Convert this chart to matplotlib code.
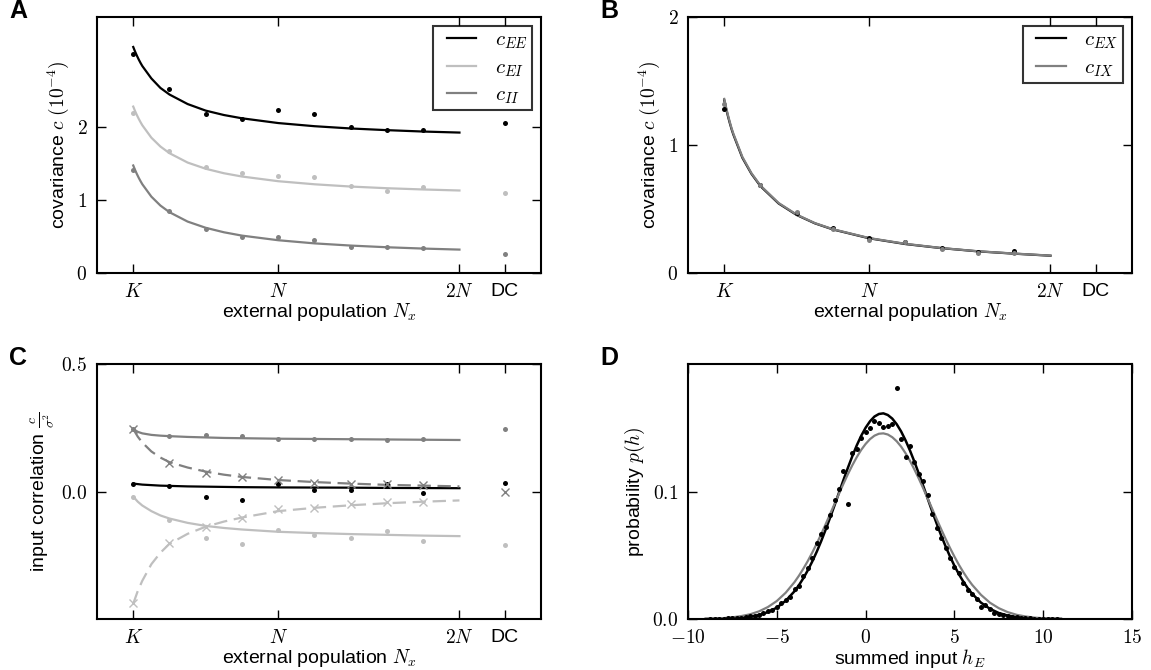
import matplotlib
matplotlib.use("Agg")
import matplotlib.pyplot as plt
from matplotlib.lines import Line2D
from matplotlib.legend_handler import HandlerLine2D

plt.rcParams['font.family'] = ['Liberation Sans', 'DejaVu Sans']
plt.rcParams['mathtext.fontset'] = 'cm'

# ---------------- data ----------------
# x positions in units of N (K = 0.2 N), DC drawn at a separate slot
tick_pos = [0.2, 1.0, 2.0, 2.25]
tick_lab = ['$K$', '$N$', '$2N$', 'DC']
x_pts = [0.2, 0.4, 0.6, 0.8, 1.0, 1.2, 1.4, 1.6, 1.8]
x_dc = 2.25
x_curve = [0.2, 0.21, 0.22, 0.23, 0.24, 0.25, 0.3, 0.35, 0.4, 0.5, 0.6, 0.7, 0.8, 1.0, 1.2, 1.4, 1.6, 1.8, 2.0]

# Panel A (covariance, 1e-4)
A_EE_curve = [3.09, 3.028, 2.972, 2.920, 2.873, 2.83, 2.66, 2.53, 2.44, 2.31, 2.22, 2.16, 2.115, 2.05, 2.007, 1.976, 1.953, 1.934, 1.92]
A_EI_curve = [2.275, 2.214, 2.159, 2.109, 2.063, 2.02, 1.85, 1.729, 1.638, 1.51, 1.425, 1.364, 1.319, 1.255, 1.213, 1.182, 1.159, 1.142, 1.128]
A_II_curve = [1.47, 1.409, 1.354, 1.303, 1.257, 1.214, 1.044, 0.922, 0.831, 0.703, 0.618, 0.557, 0.511, 0.448, 0.405, 0.375, 0.352, 0.334, 0.320]
A_EE_pts = [3.00, 2.52, 2.18, 2.11, 2.23, 2.18, 2.00, 1.95, 1.95]
A_EI_pts = [2.19, 1.67, 1.45, 1.37, 1.33, 1.31, 1.19, 1.12, 1.17]
A_II_pts = [1.41, 0.85, 0.60, 0.49, 0.49, 0.45, 0.36, 0.35, 0.34]
A_EE_dc, A_EI_dc, A_II_dc = 2.05, 1.10, 0.26

# Panel B
B_EX_curve = [1.35, 1.286, 1.227, 1.174, 1.125, 1.082, 0.90, 0.775, 0.678, 0.543, 0.453, 0.388, 0.34, 0.271, 0.226, 0.194, 0.169, 0.151, 0.135]
B_IX_curve = [1.36, 1.295, 1.236, 1.183, 1.133, 1.09, 0.907, 0.78, 0.683, 0.547, 0.456, 0.39, 0.342, 0.273, 0.228, 0.195, 0.170, 0.152, 0.136]
B_EX_pts = [1.28, 0.69, 0.47, 0.35, 0.276, 0.24, 0.195, 0.164, 0.17]
B_IX_pts = [1.32, 0.69, 0.48, 0.34, 0.26, 0.24, 0.19, 0.16, 0.16]

# Panel C (input correlation)
C_xc = [0.2, 0.225, 0.25, 0.3, 0.35, 0.4, 0.5, 0.6, 0.7, 0.8, 1.0, 1.2, 1.4, 1.6, 1.8, 2.0]
C_II_curve = [0.245, 0.234, 0.228, 0.222, 0.219, 0.217, 0.214, 0.212, 0.210, 0.209, 0.207, 0.206, 0.205, 0.204, 0.203, 0.202]
C_EE_curve = [0.031, 0.029, 0.027, 0.025, 0.023, 0.022, 0.020, 0.019, 0.018, 0.017, 0.016, 0.0155, 0.015, 0.014, 0.0135, 0.013]
C_EI_curve = [-0.020, -0.040, -0.055, -0.077, -0.094, -0.106, -0.123, -0.135, -0.143, -0.149, -0.158, -0.163, -0.167, -0.170, -0.173, -0.175]
C_IId_curve = [0.245, 0.215, 0.192, 0.157, 0.133, 0.115, 0.094, 0.078, 0.066, 0.057, 0.045, 0.037, 0.031, 0.026, 0.023, 0.020]
C_EId_curve = [-0.440, -0.390, -0.350, -0.285, -0.240, -0.205, -0.166, -0.138, -0.118, -0.102, -0.077, -0.064, -0.054, -0.046, -0.040, -0.035]
C_II_pts = [0.245, 0.218, 0.222, 0.218, 0.205, 0.206, 0.206, 0.202, 0.206]
C_EE_pts = [0.031, 0.023, -0.022, -0.033, 0.028, 0.004, 0.004, 0.028, -0.004]
C_EI_pts = [-0.020, -0.110, -0.181, -0.205, -0.151, -0.172, -0.181, -0.155, -0.194]
C_IIx_pts = [0.245, 0.110, 0.074, 0.057, 0.044, 0.034, 0.028, 0.028, 0.024]
C_EIx_pts = [-0.437, -0.200, -0.138, -0.102, -0.069, -0.065, -0.049, -0.042, -0.040]
C_II_dc, C_EE_dc, C_EI_dc, C_x_dc = 0.245, 0.034, -0.210, 0.0

# Panel D (distribution of summed input)
D_xc = [-9, -8.5, -8, -7.5, -7, -6.5, -6, -5.5, -5, -4.5, -4, -3.75, -3.5, -3.25, -3, -2.75, -2.5, -2.25,
        -2, -1.75, -1.5, -1.25, -1, -0.75, -0.5, -0.25, 0, 0.25, 0.5, 0.75, 1, 1.25, 1.5, 1.75, 2, 2.25,
        2.5, 2.75, 3, 3.25, 3.5, 3.75, 4, 4.25, 4.5, 4.75, 5, 5.25, 5.5, 5.75, 6, 6.5, 7, 7.5, 8, 8.5,
        9, 9.5, 10, 10.5, 11]
D_black_curve = [0.00005, 0.0001, 0.0002, 0.0005, 0.0009, 0.0017, 0.0031, 0.0054, 0.0089, 0.0143, 0.0218,
                 0.0266, 0.0321, 0.0383, 0.0452, 0.0528, 0.0611, 0.0701, 0.0795, 0.0891, 0.0990, 0.1089,
                 0.1185, 0.1276, 0.1361, 0.1436, 0.1500, 0.1551, 0.1588, 0.1608, 0.1613, 0.1600, 0.1572,
                 0.1528, 0.1471, 0.1401, 0.1321, 0.1233, 0.1139, 0.1042, 0.0943, 0.0844, 0.0749, 0.0657,
                 0.0571, 0.0491, 0.0418, 0.0352, 0.0294, 0.0242, 0.0198, 0.0128, 0.0080, 0.0047, 0.0027,
                 0.0015, 0.0008, 0.0004, 0.0002, 0.0001, 0.00004]
D_gray_curve = [0.0002, 0.0004, 0.0007, 0.0013, 0.0023, 0.0037, 0.0060, 0.0094, 0.0141, 0.0206, 0.0290,
                0.0340, 0.0396, 0.0456, 0.0522, 0.0592, 0.0666, 0.0743, 0.0823, 0.0902, 0.0982, 0.1060,
                0.1135, 0.1205, 0.1269, 0.1326, 0.1373, 0.1411, 0.1438, 0.1453, 0.1456, 0.1447, 0.1426,
                0.1394, 0.1352, 0.1300, 0.1240, 0.1172, 0.1100, 0.1023, 0.0944, 0.0864, 0.0784, 0.0706,
                0.0630, 0.0558, 0.0490, 0.0426, 0.0368, 0.0315, 0.0268, 0.0189, 0.0128, 0.0085, 0.0054,
                0.0033, 0.0020, 0.0011, 0.0006, 0.0003, 0.0002]
D_xp = [-8.75, -8.5, -8.25, -8.0, -7.75, -7.5, -7.25, -7.0, -6.75, -6.5, -6.25, -6.0, -5.75, -5.5, -5.25,
        -5.0, -4.75, -4.5, -4.25, -4.0, -3.75, -3.5, -3.25, -3.0, -2.75, -2.5, -2.25, -2.0, -1.75, -1.5,
        -1.25, -1.0, -0.75, -0.5, -0.25, 0.0, 0.25, 0.5, 0.75, 1.0, 1.25, 1.5, 1.75, 2.0, 2.25, 2.5,
        2.75, 3.0, 3.25, 3.5, 3.75, 4.0, 4.25, 4.5, 4.75, 5.0, 5.25, 5.5, 5.75, 6.0, 6.25, 6.5, 6.75,
        7.0, 7.25, 7.5, 7.75, 8.0, 8.25, 8.5, 8.75, 9.0, 9.25, 9.5, 9.75, 10.0, 10.25, 10.5, 10.75]
D_yp = [0.0002, 0.0001, 0.0003, 0.0001, 0.0004, 0.0006, 0.0005, 0.0011, 0.0012, 0.0020, 0.0026, 0.0035,
        0.0046, 0.0060, 0.0068, 0.0094, 0.0128, 0.0150, 0.0172, 0.0232, 0.0255, 0.0340, 0.0400, 0.0480,
        0.0595, 0.0670, 0.0720, 0.0815, 0.0935, 0.1020, 0.1160, 0.0900, 0.1300, 0.1335, 0.1420, 0.1470,
        0.1500, 0.1555, 0.1535, 0.1505, 0.1515, 0.1530, 0.1810, 0.1410, 0.1270, 0.1360, 0.1230, 0.1140,
        0.1080, 0.0970, 0.0820, 0.0710, 0.0639, 0.0560, 0.0480, 0.0410, 0.0360, 0.0285, 0.0225, 0.0194,
        0.0155, 0.0094, 0.0110, 0.0076, 0.0050, 0.0040, 0.0030, 0.0024, 0.0016, 0.0012, 0.0009, 0.0007,
        0.0004, 0.0003, 0.0003, 0.0001, 0.0002, 0.0001, 0.0001]

# ---------------- styling ----------------
BLACK, DARK, LIGHT = 'black', '0.5', '0.75'
LW = 1.6
MS = 3.6
TICK_FS = 14
LAB_FS = 14
LEG_FS = 15
DASH = (6, 3)

W, H = 1151, 670
fig = plt.figure(figsize=(W / 100, H / 100), dpi=100)


def make_ax(left, top, right, bottom):
    ax = fig.add_axes([left / W, 1 - bottom / H, (right - left) / W, (bottom - top) / H])
    for s in ax.spines.values():
        s.set_linewidth(1.5)
    ax.tick_params(direction='in', top=True, right=True, length=6.5, width=1.0,
                   pad=7, labelsize=TICK_FS)
    return ax


def letter(ax_left, ax_top, txt):
    fig.text((ax_left - 88) / W, 1 - (ax_top + 1) / H, txt, fontsize=18, fontweight='bold',
             ha='left', va='baseline')


def legend(ax):
    leg = ax.legend(loc='upper right', fontsize=LEG_FS, frameon=True, fancybox=False,
                    handlelength=1.85, handletextpad=0.9, labelspacing=0.33, borderpad=0.2,
                    borderaxespad=0.45, edgecolor='black',
                    handler_map={Line2D: HandlerLine2D(xpad=0.45)})
    leg.get_frame().set_linewidth(1.5)
    return leg


axA = make_ax(97, 17, 541, 273)
axB = make_ax(688, 17, 1132, 273)
axC = make_ax(97, 364, 541, 619)
axD = make_ax(688, 364, 1132, 619)


def pop_axis(ax):
    ax.set_xlim(0, 2.45)
    ax.set_xticks(tick_pos)
    ax.set_xticklabels(tick_lab)
    ax.set_xlabel('external population $N_x$', fontsize=LAB_FS, labelpad=0)


# Panel A
pop_axis(axA)
axA.plot(x_curve, A_EE_curve, color=BLACK, lw=LW, label='$c_{EE}$')
axA.plot(x_curve, A_EI_curve, color=LIGHT, lw=LW, label='$c_{EI}$')
axA.plot(x_curve, A_II_curve, color=DARK, lw=LW, label='$c_{II}$')
for pts, dc, col in [(A_EE_pts, A_EE_dc, BLACK), (A_EI_pts, A_EI_dc, LIGHT), (A_II_pts, A_II_dc, DARK)]:
    axA.plot(x_pts + [x_dc], pts + [dc], 'o', color=col, ms=MS, mec='none')
axA.set_ylim(0, 3.5)
axA.set_yticks([0, 1, 2])
axA.set_yticklabels(['$0$', '$1$', '$2$'])
axA.set_ylabel('covariance $c\\ (10^{-4})$', fontsize=LAB_FS, labelpad=4)
legend(axA)
letter(97, 17, 'A')

# Panel B
pop_axis(axB)
axB.plot(x_curve, B_EX_curve, color=BLACK, lw=LW, label='$c_{EX}$')
axB.plot(x_curve, B_IX_curve, color=DARK, lw=LW, label='$c_{IX}$')
axB.plot(x_pts, B_EX_pts, 'o', color=BLACK, ms=MS, mec='none')
axB.plot(x_pts, B_IX_pts, 'o', color=DARK, ms=MS, mec='none')
axB.set_ylim(0, 2)
axB.set_yticks([0, 1, 2])
axB.set_yticklabels(['$0$', '$1$', '$2$'])
axB.set_ylabel('covariance $c\\ (10^{-4})$', fontsize=LAB_FS, labelpad=4)
legend(axB)
letter(688, 17, 'B')

# Panel C
pop_axis(axC)
axC.plot(C_xc, C_II_curve, color=DARK, lw=LW)
axC.plot(C_xc, C_EE_curve, color=BLACK, lw=LW)
axC.plot(C_xc, C_EI_curve, color=LIGHT, lw=LW)
axC.plot(C_xc, C_IId_curve, color=DARK, lw=LW, dashes=DASH)
axC.plot(C_xc, C_EId_curve, color=LIGHT, lw=LW, dashes=DASH)
axC.plot(x_pts + [x_dc], C_II_pts + [C_II_dc], 'o', color=DARK, ms=MS, mec='none')
axC.plot(x_pts + [x_dc], C_EE_pts + [C_EE_dc], 'o', color=BLACK, ms=MS, mec='none')
axC.plot(x_pts + [x_dc], C_EI_pts + [C_EI_dc], 'o', color=LIGHT, ms=MS, mec='none')
axC.plot(x_pts + [x_dc], C_IIx_pts + [C_x_dc], 'x', color=DARK, ms=6, mew=1.0)
axC.plot(x_pts, C_EIx_pts, 'x', color=LIGHT, ms=6, mew=1.0)
axC.set_ylim(-0.5, 0.5)
axC.set_yticks([0, 0.5])
axC.set_yticklabels(['$0.0$', '$0.5$'])
axC.set_ylabel('input correlation $\\frac{c}{\\sigma^2}$', fontsize=LAB_FS, labelpad=4)
letter(97, 364, 'C')

# Panel D
axD.plot(D_xp, D_yp, 'o', color=BLACK, ms=MS, mec='none', zorder=3)
axD.plot(D_xc, D_black_curve, color=BLACK, lw=LW + 0.2, zorder=2)
axD.plot(D_xc, D_gray_curve, color=DARK, lw=LW, zorder=2)
axD.set_xlim(-10, 15)
axD.set_ylim(0, 0.2)
axD.set_xticks([-10, -5, 0, 5, 10, 15])
axD.set_xticklabels(['$-10$', '$-5$', '$0$', '$5$', '$10$', '$15$'])
axD.set_yticks([0, 0.1])
axD.set_yticklabels(['$0.0$', '$0.1$'])
axD.set_xlabel('summed input $h_E$', fontsize=LAB_FS, labelpad=0)
axD.set_ylabel('probability $p(h)$', fontsize=LAB_FS, labelpad=4)
letter(688, 364, 'D')

fig.savefig('out.png', dpi=100)
